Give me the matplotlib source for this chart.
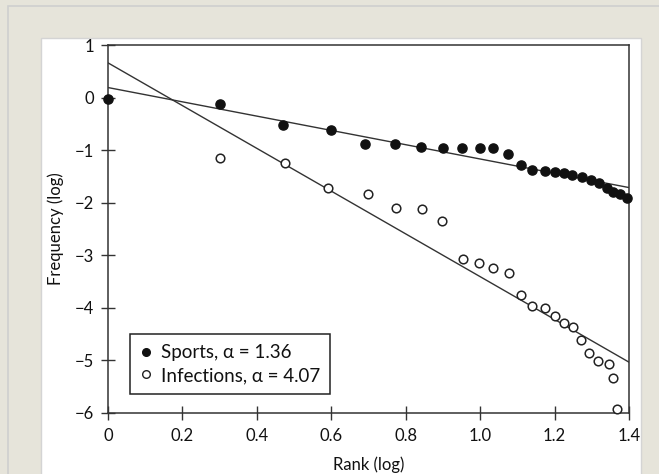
import matplotlib.pyplot as plt
from matplotlib.patches import Rectangle
from matplotlib.lines import Line2D

plt.rcParams['font.family'] = ['Lato', 'DejaVu Sans']

# log rank / log frequency
sports_x = [0.0, 0.30, 0.47, 0.60, 0.69, 0.77, 0.84, 0.90, 0.95, 1.0, 1.035, 1.076, 1.11,
            1.14, 1.175, 1.20, 1.224, 1.248, 1.273, 1.297, 1.32, 1.34, 1.357, 1.376, 1.394]
sports_y = [-0.03, -0.12, -0.52, -0.62, -0.88, -0.89, -0.94, -0.97, -0.97, -0.97, -0.97, -1.07, -1.28,
            -1.38, -1.40, -1.41, -1.43, -1.48, -1.52, -1.57, -1.63, -1.73, -1.79, -1.84, -1.92]

infect_x = [0.30, 0.476, 0.592, 0.698, 0.774, 0.843, 0.898, 0.955, 0.998, 1.035, 1.078, 1.109,
            1.14, 1.174, 1.20, 1.225, 1.25, 1.271, 1.293, 1.318, 1.345, 1.358, 1.369]
infect_y = [-1.15, -1.24, -1.73, -1.84, -2.10, -2.13, -2.35, -3.08, -3.15, -3.25, -3.35, -3.75,
            -3.97, -4.0, -4.15, -4.3, -4.37, -4.61, -4.86, -5.02, -5.08, -5.33, -5.93]

# fitted lines: y = b - alpha * x
sports_alpha, sports_b = 1.36, 0.19
infect_alpha, infect_b = 4.07, 0.66
fit_x = [0.0, 1.4]

xticks = [0, 0.2, 0.4, 0.6, 0.8, 1.0, 1.2, 1.4]
xtick_labels = ['0', '0.2', '0.4', '0.6', '0.8', '1.0', '1.2', '1.4']
yticks = [1, 0, -1, -2, -3, -4, -5, -6]

fig = plt.figure(figsize=(6.59, 4.74), dpi=100)
fig.patch.set_facecolor('#e6e4da')
# outer frame and white panel
fig.patches.append(Rectangle((8 / 659, -0.1), 1.2, (474 - 6) / 474 + 0.1, transform=fig.transFigure,
                             facecolor='#e6e4da', edgecolor='#cfcfcf', lw=1.2, zorder=-10))
fig.patches.append(Rectangle((41 / 659, -0.1), 600 / 659, (474 - 38) / 474 + 0.1, transform=fig.transFigure,
                             facecolor='white', edgecolor='#d4d4d4', lw=1.0, zorder=-9))

ax = fig.add_axes([108 / 659, 61.3 / 474, 521 / 659, 367.7 / 474])
ax.set_facecolor('white')

ax.plot(fit_x, [sports_b - sports_alpha * x for x in fit_x], color='#333333', lw=1.0, zorder=2)
ax.plot(fit_x, [infect_b - infect_alpha * x for x in fit_x], color='#333333', lw=1.0, zorder=2)
ax.plot(infect_x, infect_y, 'o', ms=6.2, mfc='white', mec='#222222', mew=1.1, zorder=3, clip_on=False)
ax.plot(sports_x, sports_y, 'o', ms=6.6, mfc='#111111', mec='#111111', zorder=4, clip_on=False)

ax.set_xlim(0, 1.4)
ax.set_ylim(-6, 1)
ax.set_xticks(xticks)
ax.set_xticklabels(xtick_labels)
ax.set_yticks(yticks)
for s in ax.spines.values():
    s.set_color('#333333')
    s.set_linewidth(1.1)
ax.tick_params(direction='inout', length=10, width=1.0, color='#333333', labelsize=12,
               labelcolor='#111111')
ax.tick_params(axis='x', pad=6)
ax.tick_params(axis='y', pad=5)

ax.set_xlabel('Rank (log)', fontsize=12, color='#111111', labelpad=9)
ax.set_ylabel('Frequency (log)', fontsize=12, color='#111111', labelpad=8)

handles = [
    Line2D([], [], marker='o', ls='none', ms=5.5, mfc='#111111', mec='#111111'),
    Line2D([], [], marker='o', ls='none', ms=5.5, mfc='white', mec='#222222', mew=1.0),
]
leg = ax.legend(handles, ['Sports, α = 1.36', 'Infections, α = 4.07'], loc='lower left',
                bbox_to_anchor=(0.042, 0.05), borderaxespad=0, fontsize=13.5, fancybox=False,
                framealpha=1, edgecolor='#222222', handlelength=0.6, handletextpad=0.5,
                borderpad=0.55, labelspacing=0.3)
leg.get_frame().set_linewidth(1.1)
for t in leg.get_texts():
    t.set_color('#111111')

fig.savefig('out.png', dpi=100, facecolor=fig.get_facecolor())
